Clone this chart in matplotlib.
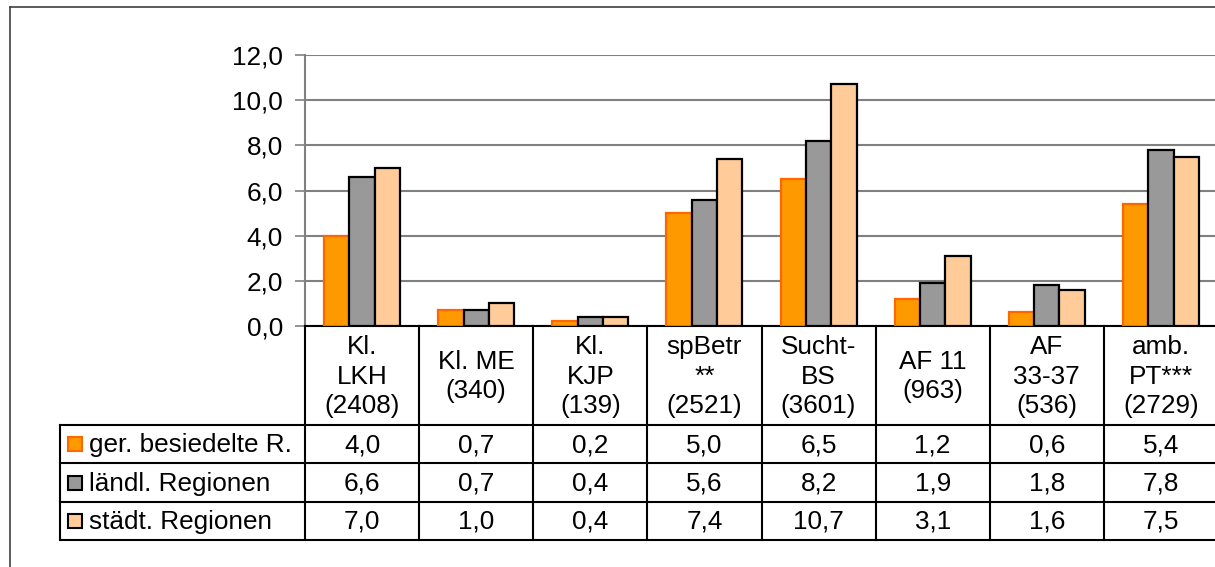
import matplotlib.pyplot as plt
import matplotlib.transforms as mtransforms
from matplotlib.lines import Line2D
from matplotlib.patches import Rectangle
import numpy as np

plt.rcParams['font.family'] = ['Liberation Sans', 'DejaVu Sans']

# data
categories = ['Kl.\nLKH\n(2408)', 'Kl. ME\n(340)', 'Kl.\nKJP\n(139)', 'spBetr\n**\n(2521)',
              'Sucht-\nBS\n(3601)', 'AF 11\n(963)', 'AF\n33-37\n(536)', 'amb.\nPT***\n(2729)']
series_names = ['ger. besiedelte R.', 'ländl. Regionen', 'städt. Regionen']
ger = [4.0, 0.7, 0.2, 5.0, 6.5, 1.2, 0.6, 5.4]
laendl = [6.6, 0.7, 0.4, 5.6, 8.2, 1.9, 1.8, 7.8]
staedt = [7.0, 1.0, 0.4, 7.4, 10.7, 3.1, 1.6, 7.5]
yticks = [0, 2, 4, 6, 8, 10, 12]

faces = ['#FF9900', '#999999', '#FFCC99']
edges = ['#FF6600', 'black', 'black']
series = [ger, laendl, staedt]
FS = 18.8

W, H = 1215, 567
fig = plt.figure(figsize=(W / 100, H / 100), dpi=100)

# outer chart frame (right and bottom are cut off in the original)
fig.add_artist(Line2D([10 / W, 10 / W], [0, 1 - 7 / H], transform=fig.transFigure, color='#404040', lw=1.2))
fig.add_artist(Line2D([10 / W, 1], [1 - 7 / H, 1 - 7 / H], transform=fig.transFigure, color='#404040', lw=1.2))

left, right, top, bottom = 305, 1218, 55, 326
ax = fig.add_axes([left / W, 1 - bottom / H, (right - left) / W, (bottom - top) / H])

n = len(categories)
x = np.arange(n)
bw = 0.222
for i, vals in enumerate(series):
    ax.bar(x + (i - 1) * bw, vals, bw, color=faces[i], edgecolor=edges[i], linewidth=1.6, zorder=3)

ax.set_xlim(-0.5, n - 0.5)
ax.set_ylim(0, 12)
ax.set_yticks(yticks)
ax.set_yticklabels([f'{v:.1f}'.replace('.', ',') for v in yticks], fontsize=FS)
ax.yaxis.grid(True, color='#808080', lw=1.5, zorder=0)
ax.set_xticks([])
ax.tick_params(axis='y', length=7, width=1.2, color='#808080', pad=9)
for s in ['top', 'right']:
    ax.spines[s].set_visible(False)
ax.spines['left'].set_color('#808080')
ax.spines['left'].set_linewidth(1.5)
ax.spines['bottom'].set_color('black')
ax.spines['bottom'].set_linewidth(1.5)

# data table below the axis
trans = mtransforms.blended_transform_factory(ax.transData, fig.transFigure)
figt = fig.transFigure

def fy(py):
    return 1 - py / H

header_bottom = 425
row_lines = [425, 463, 502, 540]
lab_left = 60

for k in range(n + 1):
    fig.add_artist(Line2D([k - 0.5, k - 0.5], [fy(bottom), fy(row_lines[-1])], transform=trans,
                          color='black', lw=1.5, clip_on=False))
fig.add_artist(Line2D([lab_left / W, lab_left / W], [fy(row_lines[0]), fy(row_lines[-1])], transform=figt,
                      color='black', lw=1.5))
for ry in row_lines:
    fig.add_artist(Line2D([lab_left / W, 1], [fy(ry), fy(ry)], transform=figt, color='black', lw=1.5))

for k, lab in enumerate(categories):
    fig.text(k, fy((bottom + header_bottom) / 2 + 1), lab, transform=trans, ha='center', va='center',
             fontsize=FS, linespacing=1.3)

for i, vals in enumerate(series):
    cy = (row_lines[i] + row_lines[i + 1]) / 2
    fig.add_artist(Rectangle((68 / W, fy(cy + 7)), 14 / W, 14 / H, transform=figt,
                             facecolor=faces[i], edgecolor=edges[i], lw=1.5))
    fig.text(89 / W, fy(cy + 1), series_names[i], transform=figt, ha='left', va='center', fontsize=FS)
    for k, v in enumerate(vals):
        fig.text(k, fy(cy + 1), f'{v:.1f}'.replace('.', ','), transform=trans, ha='center', va='center',
                 fontsize=FS)

fig.savefig('out.png', dpi=100)
